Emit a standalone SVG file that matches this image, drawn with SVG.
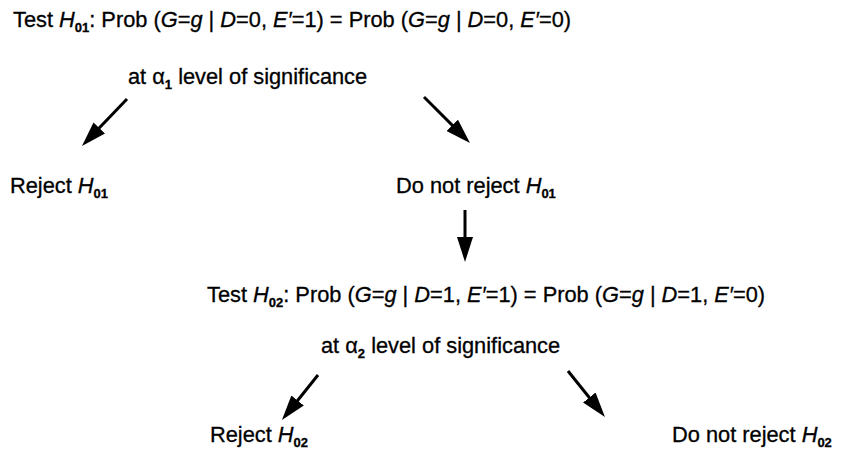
<svg xmlns="http://www.w3.org/2000/svg" width="843" height="466" viewBox="0 0 843 466">
<style>
text{font-family:"Liberation Sans",Arial,sans-serif;font-size:21.8px;fill:#000;stroke:#000;stroke-width:0.3}
.i{font-style:italic}
.s{font-size:13px;font-weight:bold}
.c line{stroke:#000;stroke-width:3;fill:none}
</style>
<defs>
<marker id="ah" markerUnits="userSpaceOnUse" markerWidth="25" markerHeight="16" refX="15" refY="8" orient="auto" viewBox="0 0 25 16">
<path d="M0,0 L25,8 L0,16 Z" fill="#000"/>
</marker>
</defs>
<rect width="843" height="466" fill="#fff"/>
<g id="test1">
<text x="13" y="27">Test <tspan class="i">H</tspan><tspan class="s" dy="5">01</tspan><tspan dy="-5">: Prob (</tspan><tspan class="i">G</tspan>=<tspan class="i">g</tspan> | <tspan class="i">D</tspan>=0, <tspan class="i">E′</tspan>=1) = Prob (<tspan class="i">G</tspan>=<tspan class="i">g</tspan> | <tspan class="i">D</tspan>=0, <tspan class="i">E′</tspan>=0)</text>
</g>
<g id="sig1">
<text x="128" y="84">at α<tspan class="s" dy="5">1</tspan><tspan dy="-5"> level of significance</tspan></text>
</g>
<g id="reject1">
<text x="10" y="193">Reject <tspan class="i">H</tspan><tspan class="s" dy="5">01</tspan></text>
</g>
<g id="notreject1">
<text x="396" y="193">Do not reject <tspan class="i">H</tspan><tspan class="s" dy="5">01</tspan></text>
</g>
<g id="test2">
<text x="207" y="302">Test <tspan class="i">H</tspan><tspan class="s" dy="5">02</tspan><tspan dy="-5">: Prob (</tspan><tspan class="i">G</tspan>=<tspan class="i">g</tspan> | <tspan class="i">D</tspan>=1, <tspan class="i">E′</tspan>=1) = Prob (<tspan class="i">G</tspan>=<tspan class="i">g</tspan> | <tspan class="i">D</tspan>=1, <tspan class="i">E′</tspan>=0)</text>
</g>
<g id="sig2">
<text x="321" y="353">at α<tspan class="s" dy="5">2</tspan><tspan dy="-5"> level of significance</tspan></text>
</g>
<g id="reject2">
<text x="210" y="442">Reject <tspan class="i">H</tspan><tspan class="s" dy="5">02</tspan></text>
</g>
<g id="notreject2">
<text x="672" y="442">Do not reject <tspan class="i">H</tspan><tspan class="s" dy="5">02</tspan></text>
</g>
<g id="connectors" class="c">
<line x1="127" y1="99" x2="88.9" y2="138.8" marker-end="url(#ah)"/>
<line x1="424" y1="97" x2="462.9" y2="135.9" marker-end="url(#ah)"/>
<line x1="465" y1="210" x2="465" y2="252" marker-end="url(#ah)"/>
<line x1="318" y1="375" x2="288.2" y2="412.2" marker-end="url(#ah)"/>
<line x1="568" y1="371" x2="598.7" y2="409.2" marker-end="url(#ah)"/>
</g>
</svg>
